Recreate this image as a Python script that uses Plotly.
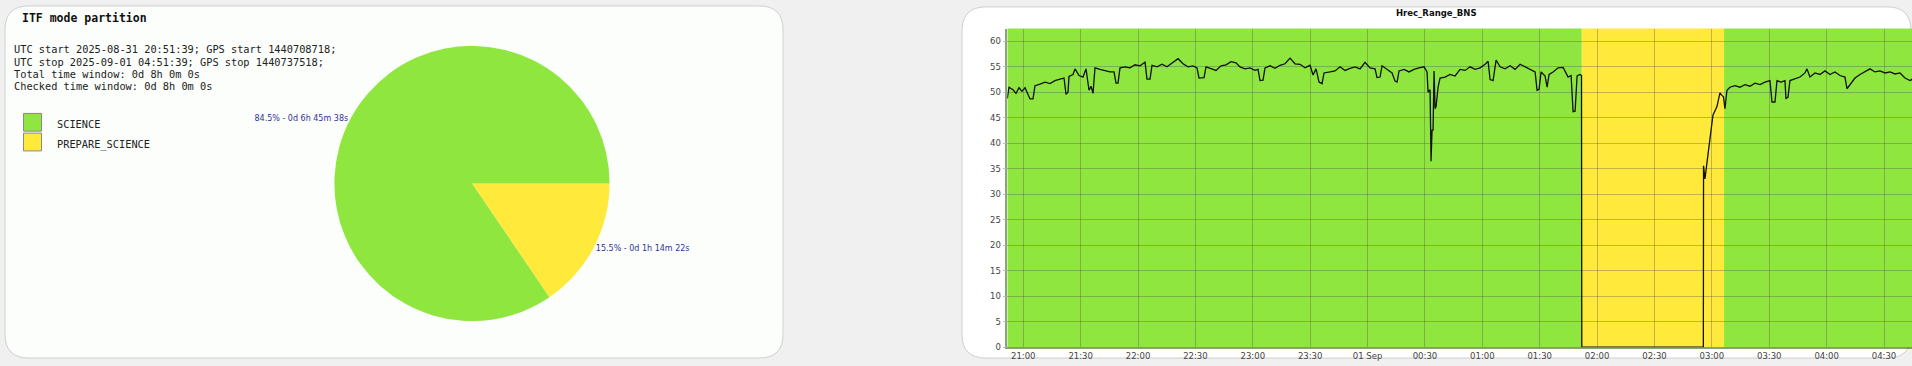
import plotly.graph_objects as go
import pandas as pd

W, H = 1912, 366

# ---------------- data ----------------
UTC_START = "2025-08-31 20:51:39"
UTC_STOP = "2025-09-01 04:51:39"
GPS_START = 1440708718
GPS_STOP = 1440737518

MODES = ["SCIENCE", "PREPARE_SCIENCE"]
MODE_SECONDS = [24338, 4462]
MODE_DURATION_TXT = ["0d 6h 45m 38s", "0d 1h 14m 22s"]
MODE_COLORS = ["#8ee63f", "#ffe93b"]

# mode segments on the time series
SEG_MODE = ["SCIENCE", "PREPARE_SCIENCE", "SCIENCE"]
SEG_START = ["2025-08-31 20:51:39", "2025-09-01 01:52:00", "2025-09-01 03:06:22"]
SEG_END = ["2025-09-01 01:52:00", "2025-09-01 03:06:22", "2025-09-01 04:51:39"]

# Hrec_Range_BNS: minutes since UTC start, value (Mpc)
T_MIN = [0, 0.89, 2.98, 4.55, 6.12, 7.69, 9.26, 10.30, 11.87, 13.44, 14.48, 17.10, 19.71,
         22.33, 24.94, 27.56, 29.65, 30.70, 31.74, 32.26, 34.35, 35.40, 37.49, 39.58, 41.15,
         42.72, 43.76, 44.81, 45.85, 48.47, 51.08, 53.70, 55.79, 56.83, 57.88, 58.93, 61.54,
         64.16, 66.77, 69.38, 72.00, 73.04, 74.61, 75.66, 78.27, 80.89, 83.50, 86.12, 89.25,
         91.87, 94.48, 97.10, 99.19, 100.23, 102.85, 103.89, 106.51, 109.12, 111.73, 114.35,
         116.96, 119.58, 121.67, 124.28, 126.90, 129.51, 131.08, 132.13, 133.69, 134.74,
         137.35, 139.97, 142.58, 145.20, 147.81, 150.43, 153.04, 155.66, 158.27, 159.84,
         161.41, 162.98, 164.55, 165.59, 168.73, 171.34, 173.96, 176.57, 179.19, 181.80,
         184.42, 187.03, 189.65, 192.26, 193.31, 194.88, 195.92, 198.54, 201.15, 202.72,
         203.77, 204.81, 207.43, 210.04, 212.65, 215.27, 217.88, 219.45, 219.98, 221.02,
         221.54, 222.07, 222.59, 223.11, 223.64, 224.16, 224.68, 225.21, 226.25, 228.87,
         231.48, 234.10, 236.71, 239.33, 241.94, 244.56, 247.17, 249.79, 251.36, 252.40,
         253.97, 255.54, 257.63, 260.24, 262.86, 265.47, 268.09, 270.70, 273.32, 275.93,
         276.98, 278.02, 279.07, 281.16, 282.21, 283.25, 285.34, 287.96, 290.57, 293.19,
         294.76, 295.80, 296.85, 297.89, 299.46, 300.20, 300.35, 363.90, 364.00, 364.74,
         365.79, 367.35, 368.92, 371.01, 372.58, 373.63, 374.41, 375.20, 376.24, 377.81,
         380.42, 383.04, 385.65, 388.27, 390.88, 393.50, 396.11, 398.73, 399.77, 401.34,
         402.39, 404.48, 406.57, 407.09, 408.14, 409.18, 411.80, 414.41, 417.03, 418.07,
         419.64, 422.25, 424.87, 427.48, 430.10, 432.71, 435.33, 437.94, 438.99, 440.56,
         443.17, 445.79, 448.40, 451.02, 453.63, 456.25, 458.86, 461.48, 464.09, 466.71,
         469.32, 471.94, 475.00, 480.00]
RANGE_MPC = [48.8, 51.0, 50.5, 49.8, 50.9, 50.2, 50.9, 50.0, 48.7, 48.7, 51.3, 51.6, 52.0,
             51.7, 52.3, 52.6, 52.8, 49.6, 50.0, 53.1, 53.5, 54.6, 53.3, 53.0, 54.6,
             50.4, 51.2, 49.8, 54.8, 54.5, 54.3, 54.0, 54.0, 51.8, 51.8, 54.8, 55.0,
             54.8, 55.4, 55.2, 55.9, 52.6, 52.6, 55.3, 55.0, 55.5, 55.0, 55.8, 56.6,
             55.6, 55.0, 55.2, 54.8, 52.8, 52.9, 55.0, 54.6, 54.3, 55.2, 55.4,
             56.0, 55.8, 55.0, 54.6, 54.8, 54.3, 54.5, 52.3, 52.4, 54.8,
             55.2, 54.7, 55.3, 55.6, 56.7, 55.6, 55.5, 54.8, 55.3, 53.4,
             54.6, 52.0, 51.7, 53.8, 54.0, 54.2, 55.0, 54.3, 54.7, 55.0,
             54.6, 55.9, 54.8, 54.6, 52.9, 53.0, 55.2, 54.5, 53.8, 52.2,
             52.0, 54.2, 54.5, 54.0, 54.5, 54.8, 55.0, 54.0, 50.0, 50.5,
             36.5, 42.6, 42.6, 54.2, 46.8, 47.2, 49.4, 51.0, 52.8, 53.0,
             53.5, 53.2, 54.5, 54.3, 55.0, 54.5, 54.8, 55.5, 56.1, 52.5,
             52.3, 56.3, 55.0, 54.6, 55.2, 54.5, 55.5, 55.0, 54.6, 54.0,
             50.4, 50.6, 54.0, 53.2, 51.0, 53.5, 54.0, 54.8, 54.9, 53.0,
             53.3, 46.2, 46.3, 53.2, 53.5, 53.3, 0.0, 0.0, 35.6, 33.0,
             36.2, 41.4, 45.5, 47.2, 49.9, 49.4, 49.1, 46.8, 50.4, 51.0,
             51.3, 51.0, 51.5, 51.2, 51.8, 51.5, 52.0, 52.3, 48.1, 48.1,
             52.3, 52.0, 52.3, 48.8, 49.0, 52.3, 52.6, 53.0, 53.8, 54.6,
             53.0, 53.8, 53.5, 54.2, 53.5, 54.0, 53.3, 53.0, 50.7, 51.5,
             52.8, 53.5, 54.0, 54.6, 54.0, 54.2, 53.8, 54.0, 53.6, 53.8,
             52.8, 52.3, 53.0, 53.2]

TICK_VALS = ["2025-08-31 21:00", "2025-08-31 21:30", "2025-08-31 22:00", "2025-08-31 22:30",
             "2025-08-31 23:00", "2025-08-31 23:30", "2025-09-01 00:00", "2025-09-01 00:30",
             "2025-09-01 01:00", "2025-09-01 01:30", "2025-09-01 02:00", "2025-09-01 02:30",
             "2025-09-01 03:00", "2025-09-01 03:30", "2025-09-01 04:00", "2025-09-01 04:30"]
TICK_TEXT = ["21:00", "21:30", "22:00", "22:30", "23:00", "23:30", "01 Sep", "00:30",
             "01:00", "01:30", "02:00", "02:30", "03:00", "03:30", "04:00", "04:30"]
Y_TICKS = [0, 5, 10, 15, 20, 25, 30, 35, 40, 45, 50, 55, 60]

# ---------------- helpers ----------------
def X(px):
    return px / W

def Y(py):
    return 1 - py / H

def rrect(x0, y0, x1, y1, r):
    return (f"M {X(x0+r)},{Y(y0)} L {X(x1-r)},{Y(y0)} Q {X(x1)},{Y(y0)} {X(x1)},{Y(y0+r)} "
            f"L {X(x1)},{Y(y1-r)} Q {X(x1)},{Y(y1)} {X(x1-r)},{Y(y1)} "
            f"L {X(x0+r)},{Y(y1)} Q {X(x0)},{Y(y1)} {X(x0)},{Y(y1-r)} "
            f"L {X(x0)},{Y(y0+r)} Q {X(x0)},{Y(y0)} {X(x0+r)},{Y(y0)} Z")

start = pd.Timestamp(UTC_START)
times = start + pd.to_timedelta(T_MIN, unit="m")
color_of = dict(zip(MODES, MODE_COLORS))
total = sum(MODE_SECONDS)
pie_text = [f"{100*s/total:.1f}% - {d}" for s, d in zip(MODE_SECONDS, MODE_DURATION_TXT)]

fig = go.Figure()

# pie: PREPARE_SCIENCE drawn first, clockwise from 3 o'clock
fig.add_trace(go.Pie(
    labels=MODES[::-1], values=MODE_SECONDS[::-1], sort=False, direction="clockwise",
    rotation=90, marker=dict(colors=MODE_COLORS[::-1], line=dict(width=0)),
    text=pie_text[::-1], textinfo="text", textposition="outside",
    textfont=dict(family="DejaVu Sans", size=8, color="#333399"),
    domain=dict(x=[X(332.5), X(611.5)], y=[Y(325.5), Y(46.5)]),
    hoverinfo="none", showlegend=False,
))

# time series
fig.add_trace(go.Scatter(
    x=times, y=RANGE_MPC, mode="lines",
    line=dict(color="#111111", width=1.3), hoverinfo="skip", showlegend=False,
    xaxis="x", yaxis="y",
))

shapes = [
    dict(type="path", xref="paper", yref="paper", path=rrect(5, 6, 783, 363, 24),
         fillcolor="#fbfefb", line=dict(color="#cfcfcf", width=1), layer="below"),
    dict(type="path", xref="paper", yref="paper", path=rrect(962, 7, 1911, 363, 24),
         fillcolor="#ffffff", line=dict(color="#cfcfcf", width=1), layer="below"),
]
for m, s, e in zip(SEG_MODE, SEG_START, SEG_END):
    shapes.append(dict(type="rect", xref="x", yref="paper", x0=s, x1=e,
                       y0=Y(352), y1=Y(29), fillcolor=color_of[m],
                       line=dict(width=0), layer="below"))

# legend boxes
leg_y = [115, 135]
for i, m in enumerate(MODES):
    shapes.append(dict(type="rect", xref="paper", yref="paper",
                       x0=X(23.5), x1=X(41.5), y0=Y(leg_y[i] + 18), y1=Y(leg_y[i]),
                       fillcolor=color_of[m], line=dict(color="#8a8a8a", width=1)))

annotations = [
    dict(text="<b>ITF mode partition</b>", x=X(20), y=Y(18), xref="paper", yref="paper",
         xanchor="left", yanchor="middle", showarrow=False,
         font=dict(family="DejaVu Sans Mono", size=11.5, color="#111111")),
    dict(text="<b>Hrec_Range_BNS</b>", x=X(1436), y=Y(13), xref="paper", yref="paper",
         xanchor="center", yanchor="middle", showarrow=False,
         font=dict(family="DejaVu Sans", size=8.5, color="#111111")),
]
info_lines = [
    f"UTC start {UTC_START}; GPS start {GPS_START};",
    f"UTC stop {UTC_STOP}; GPS stop {GPS_STOP};",
    "Total time window: 0d 8h 0m 0s",
    "Checked time window: 0d 8h 0m 0s",
]
for i, t in enumerate(info_lines):
    annotations.append(dict(text=t, x=X(12), y=Y(50 + 12.4 * i), xref="paper", yref="paper",
                            xanchor="left", yanchor="middle", showarrow=False,
                            font=dict(family="DejaVu Sans Mono", size=10.3, color="#222222")))
for i, m in enumerate(MODES):
    annotations.append(dict(text=m, x=X(55), y=Y(leg_y[i] + 11), xref="paper", yref="paper",
                            xanchor="left", yanchor="middle", showarrow=False,
                            font=dict(family="DejaVu Sans Mono", size=10.3, color="#222222")))

fig.update_layout(
    width=W, height=H, autosize=False,
    margin=dict(l=0, r=0, t=0, b=0, pad=0),
    paper_bgcolor="#f0f0f0", plot_bgcolor="rgba(0,0,0,0)",
    showlegend=False,
    shapes=shapes, annotations=annotations,
    xaxis=dict(type="date", domain=[X(1007.3), 1.0],
               range=[UTC_START, "2025-09-01 04:44:38"],
               tickmode="array", tickvals=TICK_VALS, ticktext=TICK_TEXT,
               showgrid=True, gridcolor="rgba(80,80,80,0.35)", gridwidth=1,
               ticks="", showline=True, linecolor="rgba(40,90,20,0.55)", linewidth=1.5,
               tickfont=dict(family="DejaVu Sans", size=8.5, color="#444444"),
               zeroline=False, fixedrange=True),
    yaxis=dict(domain=[Y(352), Y(29)], range=[0, 62.5], tickmode="array", tickvals=Y_TICKS,
               showgrid=True, gridcolor="rgba(80,80,80,0.35)", gridwidth=1,
               ticks="outside", ticklen=3, tickcolor="#bbbbbb",
               showline=True, linecolor="rgba(40,90,20,0.55)", linewidth=1.5,
               tickfont=dict(family="DejaVu Sans", size=8.5, color="#444444"),
               zeroline=False, fixedrange=True),
)

fig.write_html("out.html", config={"displayModeBar": False})
